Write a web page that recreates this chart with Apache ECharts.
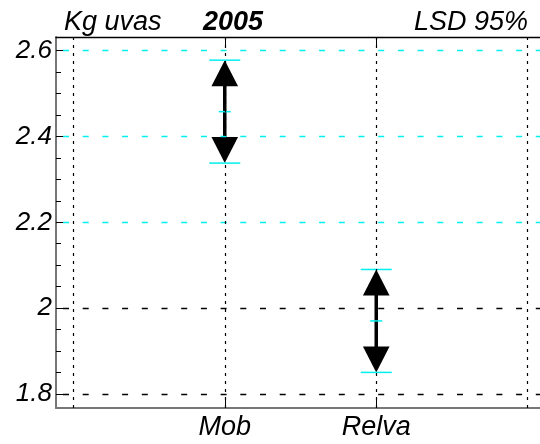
<!DOCTYPE html>
<html>
<head>
<meta charset="utf-8">
<script src="https://cdn.jsdelivr.net/npm/echarts@6/dist/echarts.min.js"></script>
<style>html,body{margin:0;padding:0;background:#fff;}#c{width:540px;height:444px;}</style>
</head>
<body>
<div id="c"></div>
<script>
// ---- data ----
const categories = ['Mob', 'Relva'];
const categoryPos = [1, 2];
const means = [2.458, 1.970];
const lsdHalf = [0.12, 0.12];
const yMajorTicks = [1.8, 2.0, 2.2, 2.4, 2.6];
const yMinorTicks = [1.85, 1.9, 1.95, 2.05, 2.1, 2.15, 2.25, 2.3, 2.35, 2.45, 2.5, 2.55];
const xGridValues = [0, 1, 2, 3];
const cyanGridValues = [2.2, 2.4, 2.6];
const blackGridValues = [1.8, 2.0];
const titleLeft = 'Kg uvas';
const titleYear = '2005';
const titleRight = 'LSD 95%';

const X_MIN = -0.114, X_MAX = 3.081;
const Y_MIN = 1.767, Y_MAX = 2.632;
const FONT = '"Liberation Sans", Arial, sans-serif';
const CYAN = '#00f0f0';

const chart = echarts.init(document.getElementById('c'), null, {renderer: 'canvas'});

const hLines = [];
cyanGridValues.forEach(v => hLines.push({yAxis: v, lineStyle: {color: CYAN, type: [6, 13.7], dashOffset: -7, width: 1.3}}));
blackGridValues.forEach(v => hLines.push({yAxis: v, lineStyle: {color: '#000', type: [6, 13.7], dashOffset: -7, width: 1.3}}));
const vLines = xGridValues.map(v => ({xAxis: v, lineStyle: {color: '#000', type: [3, 5], width: 1.2}}));

const arrowData = categoryPos.map((p, i) => [p, means[i], lsdHalf[i]]);

const option = {
  animation: false,
  backgroundColor: '#fff',
  grid: {left: 56, top: 37, right: 0, bottom: 36, containLabel: false},
  xAxis: [{
    type: 'value', min: X_MIN, max: X_MAX, position: 'bottom',
    axisLine: {show: true, onZero: false, lineStyle: {color: '#777', width: 2}},
    axisTick: {show: true, inside: true, length: 10, customValues: categoryPos, lineStyle: {color: '#000', width: 1}},
    axisLabel: {show: true, customValues: categoryPos, margin: 6,
      formatter: v => categories[categoryPos.indexOf(Math.round(v))] || '',
      color: '#000', fontFamily: FONT, fontStyle: 'italic', fontSize: 27},
    splitLine: {show: false}
  }, {
    type: 'value', min: X_MIN, max: X_MAX, position: 'top',
    axisLine: {show: true, onZero: false, lineStyle: {color: '#000', width: 1.3}},
    axisTick: {show: true, inside: true, length: 10, customValues: categoryPos, lineStyle: {color: '#000', width: 1}},
    axisLabel: {show: false},
    splitLine: {show: false}
  }],
  yAxis: [{
    type: 'value', min: Y_MIN, max: Y_MAX, position: 'left',
    axisLine: {show: true, onZero: false, lineStyle: {color: '#777', width: 2}},
    axisTick: {show: true, inside: true, length: 9, customValues: yMajorTicks, lineStyle: {color: '#000', width: 1}},
    axisLabel: {show: true, customValues: yMajorTicks, margin: 4,
      formatter: v => String(Math.round(v * 10) / 10),
      color: '#000', fontFamily: FONT, fontStyle: 'italic', fontSize: 26},
    splitLine: {show: false}
  }, {
    type: 'value', min: Y_MIN, max: Y_MAX, position: 'left', offset: 0,
    axisLine: {show: false, onZero: false},
    axisTick: {show: true, inside: true, length: 5, customValues: yMinorTicks, lineStyle: {color: '#000', width: 1}},
    axisLabel: {show: false},
    splitLine: {show: false}
  }],
  graphic: [
    {type: 'text', left: 64, top: 9, style: {text: titleLeft, font: 'italic 27px ' + FONT, fill: '#000'}},
    {type: 'text', left: 203, top: 9, style: {text: titleYear, font: 'italic bold 27px ' + FONT, fill: '#000'}},
    {type: 'text', right: 12, top: 9, style: {text: titleRight, font: 'italic 27px ' + FONT, fill: '#000'}}
  ],
  series: [{
    type: 'line', data: [], xAxisIndex: 0, yAxisIndex: 0, silent: true,
    markLine: {silent: true, symbol: 'none', label: {show: false}, animation: false,
      data: hLines.concat(vLines)}
  }, {
    type: 'custom', xAxisIndex: 0, yAxisIndex: 0, silent: true,
    data: arrowData,
    encode: {x: 0, y: 1},
    renderItem: function (params, api) {
      const x = api.value(0), m = api.value(1), h = api.value(2);
      const top = api.coord([x, m + h]);
      const mid = api.coord([x, m]);
      const bot = api.coord([x, m - h]);
      const cx = top[0];
      const aw = 13.3, ah = 26;
      return {type: 'group', children: [
        {type: 'line', shape: {x1: cx, y1: top[1] + ah - 2, x2: cx, y2: bot[1] - ah + 2}, style: {stroke: '#000', lineWidth: 3.5}},
        {type: 'polygon', shape: {points: [[cx, top[1]], [cx - aw, top[1] + ah], [cx + aw, top[1] + ah]]}, style: {fill: '#000'}},
        {type: 'polygon', shape: {points: [[cx, bot[1]], [cx - aw, bot[1] - ah], [cx + aw, bot[1] - ah]]}, style: {fill: '#000'}},
        {type: 'line', shape: {x1: cx - 15.5, y1: top[1], x2: cx + 15.5, y2: top[1]}, style: {stroke: CYAN, lineWidth: 1.5}},
        {type: 'line', shape: {x1: cx - 6, y1: mid[1], x2: cx + 6, y2: mid[1]}, style: {stroke: CYAN, lineWidth: 1.5}},
        {type: 'line', shape: {x1: cx - 15.5, y1: bot[1], x2: cx + 15.5, y2: bot[1]}, style: {stroke: CYAN, lineWidth: 1.5}}
      ]};
    }
  }]
};
chart.setOption(option);
</script>
</body>
</html>
